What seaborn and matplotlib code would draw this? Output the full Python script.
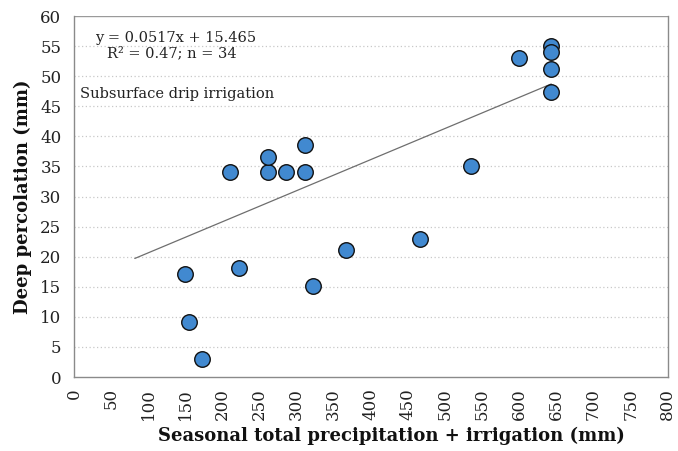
import matplotlib
matplotlib.use("Agg")
import matplotlib.pyplot as plt
import seaborn as sns
import numpy as np
import pandas as pd

# Data
precip_irrig = [210, 261, 286, 311, 261, 311, 149, 223, 366, 322, 155, 173,
                466, 535, 600, 643, 643, 643, 643]
deep_perc = [34.0, 34.0, 34.0, 34.0, 36.6, 38.6, 17.2, 18.1, 21.1, 15.2, 9.1, 3.0,
             22.9, 35.1, 53.0, 55.0, 54.0, 51.2, 47.3]
slope = 0.0517
intercept = 15.465
fit_range = [82, 643]
x_ticks = list(range(0, 801, 50))
y_ticks = list(range(0, 61, 5))

df = pd.DataFrame({"x": precip_irrig, "y": deep_perc})
fit_x = np.array(fit_range)
fit_df = pd.DataFrame({"x": fit_x, "y": slope * fit_x + intercept})

sns.set_theme(style="white")
plt.rcParams['font.family'] = ['DejaVu Serif']

fig = plt.figure(figsize=(6.78, 4.51), dpi=100)
ax = fig.add_axes([0.109, 0.164, 0.876, 0.8005])

for yv in y_ticks[1:-1]:
    ax.axhline(yv, color="#c8c8c8", lw=0.9, ls=(0, (1, 2)), zorder=0)
ax.axhline(60, color="#9a9a9a", lw=1.0, zorder=0)

sns.lineplot(data=fit_df, x="x", y="y", ax=ax, color="#6e6e6e", lw=0.9, zorder=2)
sns.scatterplot(data=df, x="x", y="y", ax=ax, s=125, color="#4189d0",
                edgecolor="#111111", linewidth=1.0, zorder=3)

ax.set_xlim(0, 800)
ax.set_ylim(0, 60)
ax.set_xticks(x_ticks)
ax.set_yticks(y_ticks)
ax.set_xticklabels([str(v) for v in x_ticks], rotation=90, fontsize=12, color="#222222")
ax.set_yticklabels([str(v) for v in y_ticks], fontsize=12, color="#222222")
ax.tick_params(axis="x", direction="inout", length=8, width=0.8, color="#888888", pad=4)
ax.tick_params(axis="y", direction="out", length=5, width=0.8, color="#888888", pad=4)

for side in ["left", "bottom", "right"]:
    ax.spines[side].set_color("#8a8a8a")
    ax.spines[side].set_linewidth(1.0)
ax.spines["top"].set_visible(False)

ax.set_xlabel("Seasonal total precipitation + irrigation (mm)", fontsize=13,
              fontweight="bold", color="#111111", labelpad=1)
ax.xaxis.set_label_coords(0.534, -0.138)
ax.xaxis.label.set_va("top")
ax.set_ylabel("Deep percolation (mm)", fontsize=13, fontweight="bold",
              color="#111111", labelpad=6)

ax.text(0.035, 0.94, "y = 0.0517x + 15.465", transform=ax.transAxes,
        fontsize=10.5, color="#222222", va="center", ha="left")
ax.text(0.056, 0.898, "R² = 0.47; n = 34", transform=ax.transAxes,
        fontsize=10.5, color="#222222", va="center", ha="left")
ax.text(0.01, 0.785, "Subsurface drip irrigation", transform=ax.transAxes,
        fontsize=10.5, color="#222222", va="center", ha="left")

fig.savefig("out.png", dpi=100)
